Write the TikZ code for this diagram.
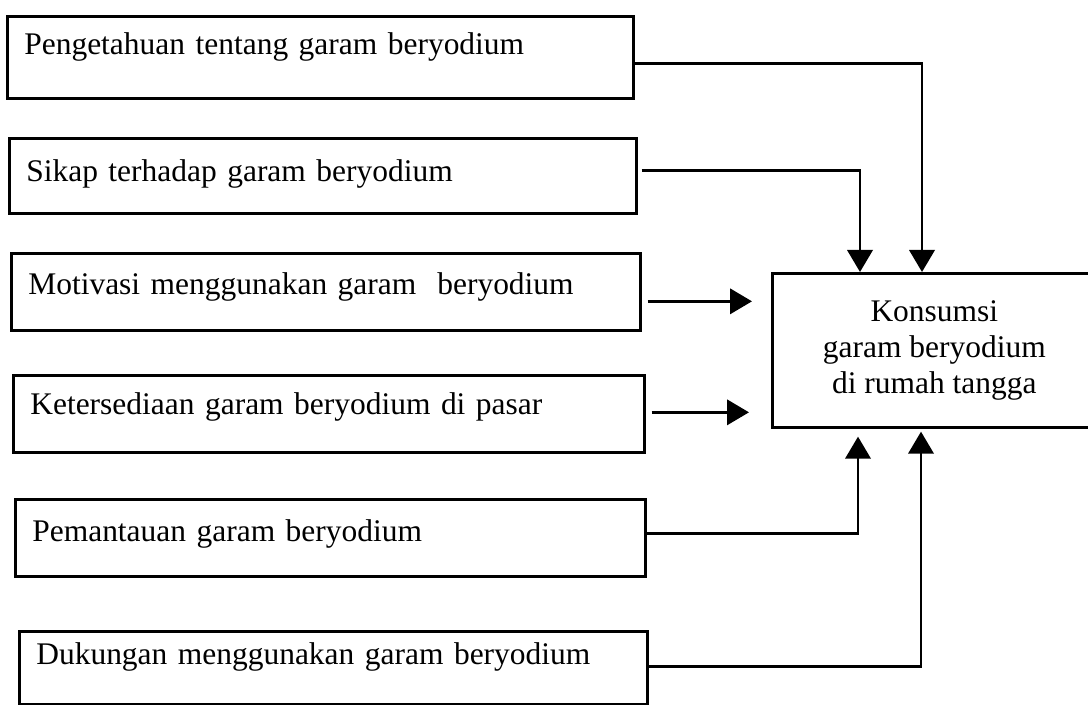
\documentclass[tikz,border=0pt]{standalone}
\usepackage{fontspec}
\setmainfont{Liberation Serif}
\usetikzlibrary{arrows.meta,calc}
\begin{document}
\begin{tikzpicture}[x=0.75pt,y=-0.75pt,
  txt/.style={font=\fontsize{23.6}{27}\selectfont},
  lbox/.style={txt, draw, line width=2pt, anchor=north west, inner xsep=12.75pt, inner ysep=0pt, align=left},
  rbox/.style={txt, draw, line width=2pt, anchor=north west, minimum width=243pt, minimum height=115.5pt, align=center, inner sep=0pt},
  conn/.style={line width=2pt},
  arr/.style={conn, -{Triangle[length=16.5pt,width=19pt]}}
]
\clip (0,0) rectangle (1088,705);
\fill[white] (0,0) rectangle (1088,705);

\node[lbox, text width=444pt,   text height=28.5pt,  text depth=33pt]   (b1) at (6,15)  {Pengetahuan tentang garam beryodium};
\node[lbox, text width=444.75pt,text height=32.25pt, text depth=24pt]   (b2) at (8,137) {Sikap terhadap garam beryodium};
\node[lbox, text width=446.25pt,text height=30.75pt, text depth=27pt]   (b3) at (10,252) {Motivasi menggunakan garam\ \ beryodium};
\node[lbox, text width=447.75pt,text height=29.25pt, text depth=28.5pt] (b4) at (12,374) {Ketersediaan garam beryodium di pasar};
\node[lbox, text width=447pt,   text height=31.5pt,  text depth=26.25pt](b5) at (14,498) {Pemantauan garam beryodium};
\node[lbox, text width=445.5pt, text height=24.75pt, text depth=30pt]   (b6) at (18,630) {Dukungan menggunakan garam beryodium};

\node[rbox] (rb) at (771,272) {Konsumsi\\garam beryodium\\di rumah tangga};

\coordinate (y1) at ($(b1.east)+(0,6)$);
\coordinate (y2) at ($(b2.east)+(0,-5.5)$);
\coordinate (y3) at ($(b3.east)+(0,9.5)$);
\coordinate (y4) at ($(b4.east)+(0,-1.5)$);
\coordinate (y5) at ($(b5.east)+(0,-4.5)$);
\coordinate (y6) at ($(b6.east)+(0,-1.5)$);
\coordinate (tA) at ($(rb.north west)+(151,0)$);
\coordinate (tB) at ($(rb.north west)+(89,0)$);
\coordinate (bA) at ($(rb.south west)+(87,0)$);
\coordinate (bB) at ($(rb.south west)+(150,0)$);

\draw[arr] (y1) -| (tA);
\draw[arr, shorten <=3pt] (y2) -| (tB);
\draw[arr, shorten <=4.5pt, shorten >=14.25pt] (y3) -- (y3 -| rb.west);
\draw[arr, shorten <=4.5pt, shorten >=16.5pt] (y4) -- (y4 -| rb.west);
\draw[arr, shorten >=6pt] (y5) -| (bA);
\draw[arr, shorten >=2.25pt] (y6) -| (bB);
\end{tikzpicture}
\end{document}
